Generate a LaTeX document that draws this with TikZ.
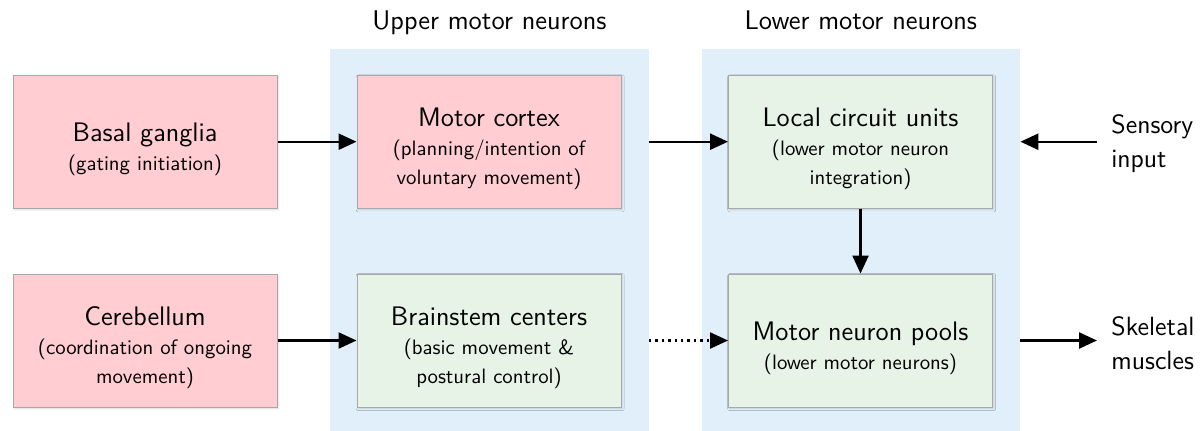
\documentclass[tikz,border=0pt]{standalone}
\usepackage{fontspec}
\usetikzlibrary{arrows.meta,shadows.blur}

\definecolor{pinkfill}{HTML}{FFCDD2}
\definecolor{greenfill}{HTML}{E6F3E6}
\definecolor{panelblue}{HTML}{E1EFFB}
\definecolor{boxline}{HTML}{A8A8A8}

\tikzset{
  box/.style={draw=boxline, line width=0.5pt, minimum width=132pt, minimum height=66.5pt,
    inner sep=2pt, align=center, font=\sffamily\fontsize{13.4}{14.5}\selectfont,
    blur shadow={shadow xshift=0.6pt, shadow yshift=-0.8pt, shadow blur radius=1pt, shadow opacity=15}},
  cortical/.style={box, fill=pinkfill},
  spinal/.style={box, fill=greenfill},
  panel/.style={fill=panelblue, draw=none, inner sep=0pt},
  title/.style={font=\sffamily\fontsize{13.5}{16}\selectfont, anchor=base},
  side/.style={font=\sffamily\fontsize{13.2}{17}\selectfont, align=left, anchor=west, inner sep=7pt},
  arr/.style={line width=1.2pt, -{Triangle[length=9pt,width=8pt]}},
}

% tall strut on the first line, so the text block sits a little low in its box
\newcommand{\topstrut}{\rule{0pt}{16.6pt}}
% switch to the smaller size used for the descriptions
\newcommand{\desc}{\fontsize{10.4}{14.5}\selectfont}

\begin{document}
\begin{tikzpicture}[x=0.5pt, y=-0.5pt]
  \useasboundingbox (0,0) rectangle (1204,430);

  % column panels
  \node[panel, minimum width=159.15pt, minimum height=192pt] (upper) at (489.5,241) {};
  \node[panel, minimum width=159.15pt, minimum height=192pt] (lower) at (860.85,241) {};

  \node[title] (uppertitle) at (489.5,29) {Upper motor neurons};
  \node[title] (lowertitle) at (860.85,29) {Lower motor neurons};

  % boxes
  \node[cortical] (basal) at (145,141.7) {\topstrut Basal ganglia\\\desc (gating initiation)};
  \node[cortical] (cortex) at (489,141.7) {\topstrut Motor cortex\\\desc (planning/intention of\\\desc voluntary movement)};
  \node[spinal] (local) at (860.5,141.7) {\topstrut Local circuit units\\\desc (lower motor neuron\\\desc integration)};
  \node[cortical] (cereb) at (145,340.5) {\topstrut Cerebellum\\\desc (coordination of ongoing\\\desc movement)};
  \node[spinal] (brainstem) at (489,340.5) {\topstrut Brainstem centers\\\desc (basic movement \&\\\desc postural control)};
  \node[spinal] (pools) at (860.5,340.5) {\topstrut Motor neuron pools\\\desc (lower motor neurons)};

  % external labels
  \node[side] (sensory) at (1097,144) {Sensory\\input};
  \node[side] (muscles) at (1097,343.5) {Skeletal\\muscles};

  % connections
  \draw[arr] (basal) -- (cortex);
  \draw[arr] (cereb) -- (brainstem);
  \draw[arr] (upper.east |- cortex) -- (local);
  \draw[arr, dotted] (upper.east |- brainstem) -- (pools);
  \draw[arr] (local) -- (pools);
  \draw[arr] (sensory.west |- local) -- (lower.east |- local);
  \draw[arr] (lower.east |- pools) -- (muscles.west |- pools);
\end{tikzpicture}
\end{document}
